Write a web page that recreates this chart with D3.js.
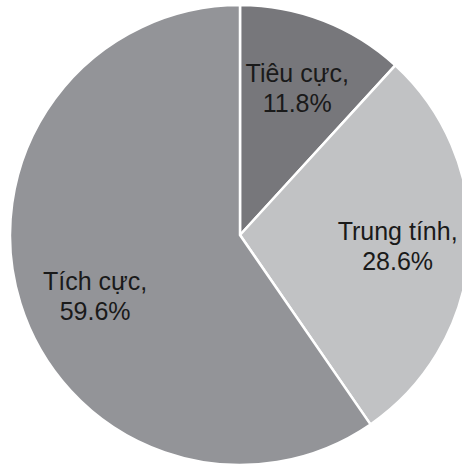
<!DOCTYPE html>
<html><head><meta charset="utf-8">
<script src="https://cdn.jsdelivr.net/npm/d3@7"></script>
<style>html,body{margin:0;padding:0;background:#fff;overflow:hidden}</style>
</head><body>
<svg id="c" width="462" height="466"></svg>
<script>
const categories = ["Tiêu cực", "Trung tính", "Tích cực"];
const values = [11.8, 28.6, 59.6];
const colors = ["#77777b", "#c1c2c4", "#939498"];

const svg = d3.select("#c");
const cx = 240, cy = 235, R = 230;
const g = svg.append("g").attr("transform", `translate(${cx},${cy})`);

const data = categories.map((c, i) => ({ name: c, value: values[i], color: colors[i] }));
const pie = d3.pie().value(d => d.value).sort(null);
const arc = d3.arc().innerRadius(0).outerRadius(R);
const labelArc = d3.arc().innerRadius(158).outerRadius(158);

const arcs = pie(data);
g.selectAll("path").data(arcs).join("path")
  .attr("d", arc)
  .attr("fill", d => d.data.color)
  .attr("stroke", "#fff")
  .attr("stroke-width", 2.5)
  .attr("stroke-linejoin", "miter");

const lbl = g.selectAll("text").data(arcs).join("text")
  .attr("transform", (d, i) => {
    const [x, y] = labelArc.centroid(d);
    const nudge = i === 2 ? [6, 14] : [0, 0];
    return `translate(${x + nudge[0]},${y + nudge[1]})`;
  })
  .attr("text-anchor", "middle")
  .attr("font-family", "Liberation Sans, Arial, sans-serif")
  .attr("font-size", 25)
  .attr("fill", "#1a1a1a");
lbl.append("tspan").attr("x", 0).attr("dy", -6).text(d => d.data.name + ",");
lbl.append("tspan").attr("x", 0).attr("dy", 30).text(d => d.data.value.toFixed(1) + "%");
</script>
</body></html>
